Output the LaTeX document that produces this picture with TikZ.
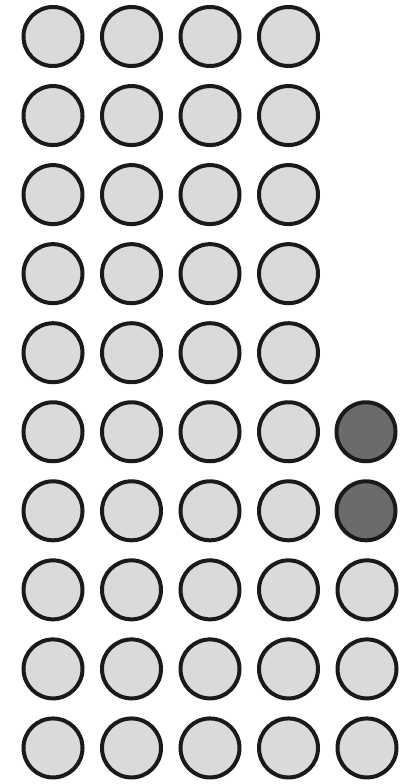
\documentclass[tikz,border=0pt]{standalone}
\definecolor{lightfill}{HTML}{D9DADC}
\definecolor{darkfill}{HTML}{6B6B6B}
\definecolor{edgecol}{HTML}{1A1A1A}
\tikzset{
  dot/.style={circle, draw=edgecol, line width=4pt, minimum size=59pt, inner sep=0pt, fill=lightfill},
  darkdot/.style={dot, fill=darkfill}
}
\begin{document}
\begin{tikzpicture}[x=1pt,y=-1pt]
\useasboundingbox (0,0) rectangle (410,784);
\foreach \r in {0,...,9}{
  \foreach \c in {0,...,3}{
    \node[dot] (n\r\c) at ({53+78.5*\c},{36.5+79.05*\r}) {};
  }
}
\foreach \r in {7,8,9}{
  \node[dot] (n\r4) at (367,{36.5+79.05*\r}) {};
}
\foreach \r in {5,6}{
  \node[darkdot] (n\r4) at (366,{36.5+79.05*\r}) {};
}
\end{tikzpicture}
\end{document}
